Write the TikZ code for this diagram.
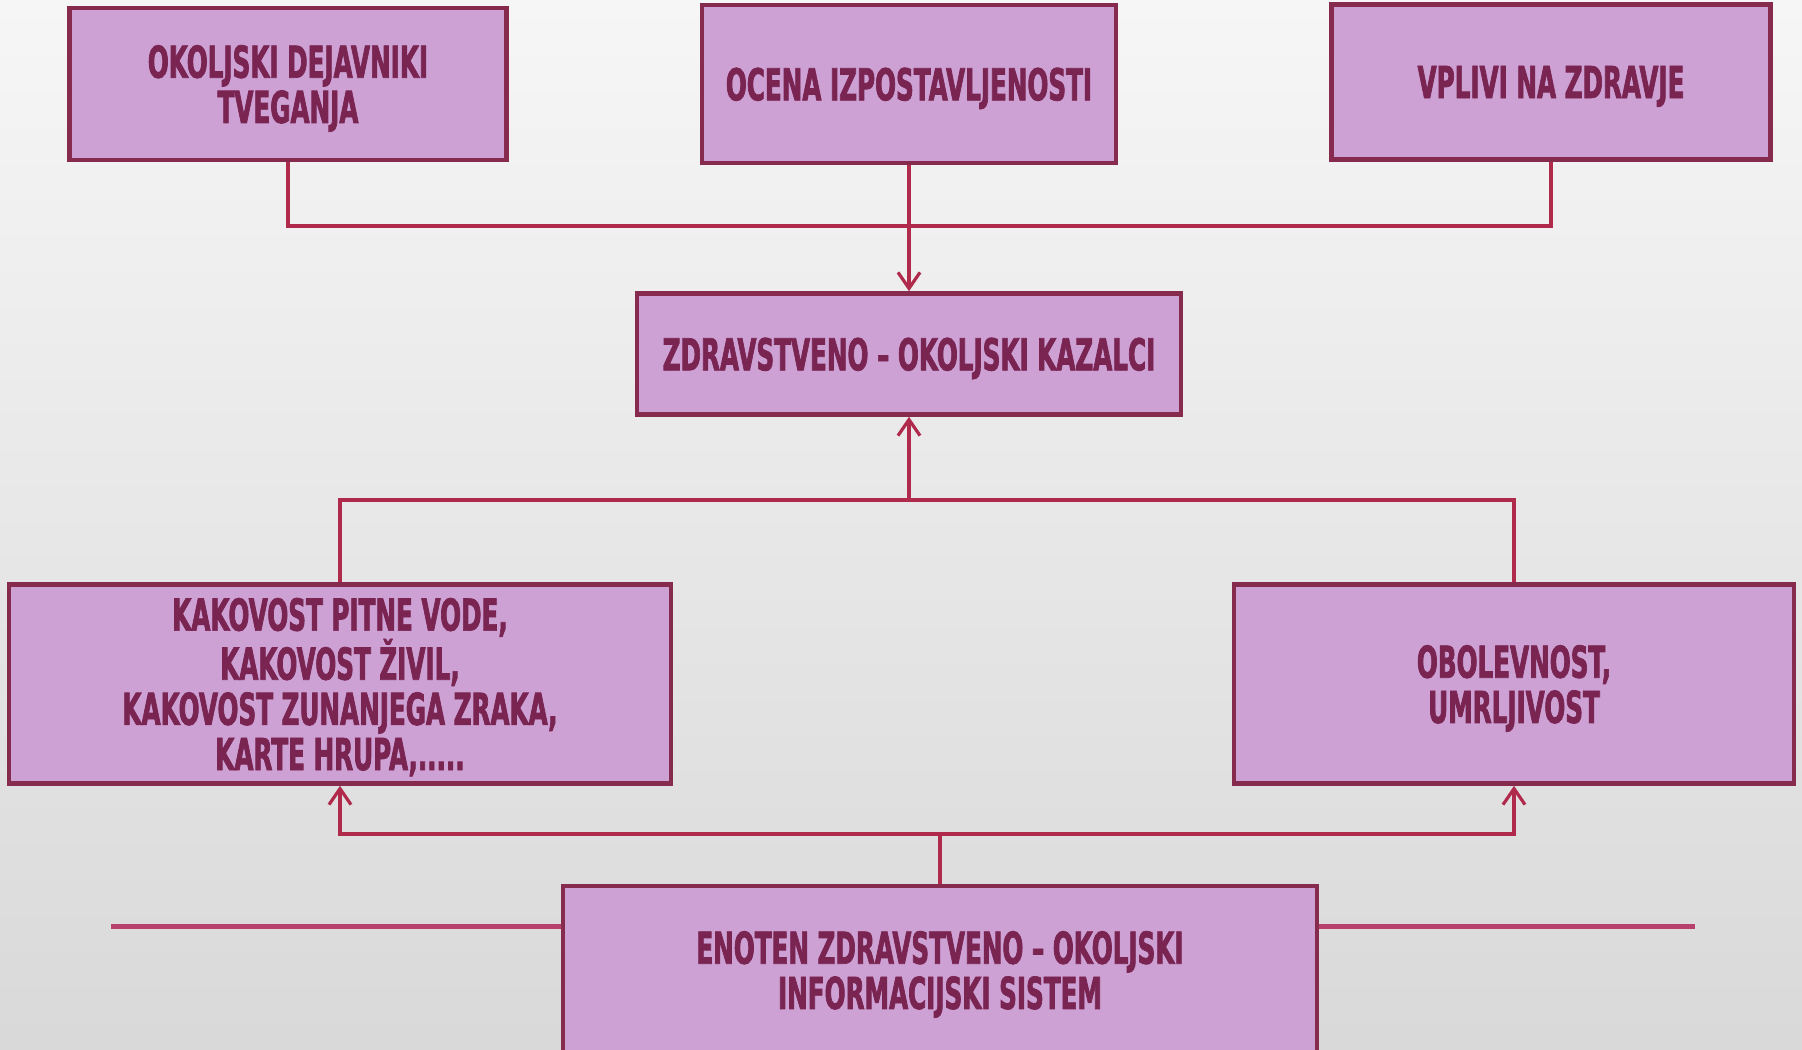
\documentclass[tikz,border=0pt]{standalone}
\usepackage{fontspec}
\usepackage{tikz}
\usetikzlibrary{arrows.meta,positioning,calc}
\newfontfamily\boxfont[FakeStretch=0.56,FakeBold=1.6]{DejaVu Sans Bold}
\definecolor{boxfill}{RGB}{205,161,212}
\definecolor{boxline}{RGB}{134,42,78}
\definecolor{boxtext}{RGB}{122,36,82}
\definecolor{linkcol}{RGB}{176,42,75}
\definecolor{decocol}{RGB}{184,64,108}

\begin{document}
\begin{tikzpicture}[x = 0.5pt, y = -0.5pt,
    box/.style = {draw = boxline, line width = 2.3pt, fill = boxfill, text = boxtext,
      align = center, inner sep = 0pt, text depth = 0pt,
      font = {\boxfont\fontsize{22}{22.6}\selectfont}},
    link/.style = {draw = linkcol, line width = 1.6pt},
    arrow/.style = {link, -{Straight Barb[length = 8pt, width = 11pt, line width = 1.6pt]}}]
    \clip (0,0) rectangle (1802,1049);
    \shade[top color = gray!7, bottom color = gray!30] (0,0) rectangle (1802,1049);
    \draw[decocol, line width = 2.5pt] (111,926) -- (1695,926);
    \node[box, minimum width = 218.5pt, minimum height = 76pt] (dejavniki) at (288,84) {OKOLJSKI DEJAVNIKI\\TVEGANJA};
    \node[box, minimum width = 207pt, minimum height = 79pt] (ocena) at (909,84) {OCENA IZPOSTAVLJENOSTI};
    \node[box, minimum width = 219.5pt, minimum height = 77.5pt] (vplivi) at (1551,82) {VPLIVI NA ZDRAVJE};
    \node[box, minimum width = 272pt, minimum height = 60.5pt] (kazalci) at (909,354) {ZDRAVSTVENO – OKOLJSKI KAZALCI};
    \node[box, minimum width = 331pt, minimum height = 99.5pt] (pitna) at (340,684) {KAKOVOST PITNE VODE,\\KAKOVOST ŽIVIL,\\KAKOVOST ZUNANJEGA ZRAKA,\\KARTE HRUPA,.....};
    \node[box, minimum width = 280pt, minimum height = 99.5pt] (obolevnost) at (1514,684) {OBOLEVNOST,\\UMRLJIVOST};
    \node[box, minimum width = 377pt, minimum height = 84pt] (sistem) at (940,970) {ENOTEN ZDRAVSTVENO – OKOLJSKI\\INFORMACIJSKI SISTEM};
    \coordinate (top) at (909,226);
    \coordinate (mid) at (909,500);
    \coordinate (low) at (940,834);
    \draw[link] (dejavniki.south) |- (top) -| (vplivi.south);
    \draw[arrow] (ocena.south) -- (kazalci.north);
    \draw[link] (pitna.north) |- (mid) -| (obolevnost.north);
    \draw[arrow] (mid) -- (kazalci.south);
    \draw[link] (sistem.north) -- (low);
    \draw[arrow] (low) -| (pitna.south);
    \draw[arrow] (low) -| (obolevnost.south);
\end{tikzpicture}
\end{document}
